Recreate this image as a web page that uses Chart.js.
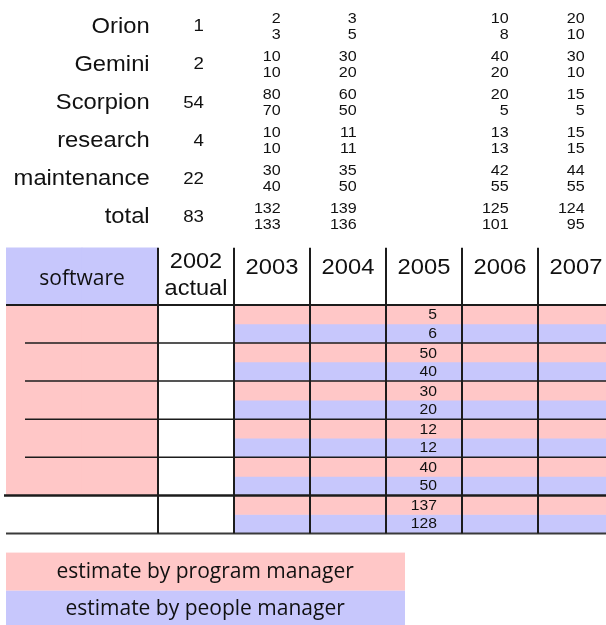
<!DOCTYPE html>
<html>
<head>
<meta charset="utf-8">
<title>software estimates</title>
<script src="https://cdn.jsdelivr.net/npm/chart.js@4.4.1/dist/chart.umd.min.js"></script>
<style>
    html, body { margin: 0; padding: 0; background: #fff; overflow: hidden; }
    #tablaChart { display: block; }
</style>
</head>
<body>
<canvas id="tablaChart" width="614" height="625"></canvas>
<script>
const programs = ['Orion', 'Gemini', 'Scorpion', 'research', 'maintenance'];
const totalLabel = 'total';
const years = ['2003', '2004', '2005', '2006', '2007'];
const yearsInTable = ['2005'];

const actual2002 = [1, 2, 54, 4, 22];
const actualTotal2002 = 83;

// estimate by program manager
const pm2003 = [2, 10, 80, 10, 30];
const pm2004 = [3, 30, 60, 11, 35];
const pm2005 = [5, 50, 30, 12, 40];
const pm2006 = [10, 40, 20, 13, 42];
const pm2007 = [20, 30, 15, 15, 44];
const pmTotals = [132, 139, 137, 125, 124];

// estimate by people manager
const pe2003 = [3, 10, 70, 10, 40];
const pe2004 = [5, 20, 50, 11, 50];
const pe2005 = [6, 40, 20, 12, 50];
const pe2006 = [8, 20, 5, 13, 55];
const pe2007 = [10, 10, 5, 15, 55];
const peTotals = [133, 136, 128, 101, 95];

const legendLabels = ['estimate by program manager', 'estimate by people manager'];

const PINK = '#ffc7c7';
const LAVENDER = '#c7c7fc';
const INK = '#1c1c1c';
const ARIAL = '"Liberation Sans", Arial, sans-serif';
const CALIBRI = '"Open Sans", "Noto Sans", sans-serif';

let tablaChart;

const pmByYear = [pm2003, pm2004, pm2005, pm2006, pm2007];
const peByYear = [pe2003, pe2004, pe2005, pe2006, pe2007];

// one bar per cell, top half = program manager, bottom half = people manager
function cellBars(byYear, totals, half) {
    const data = [];
    byYear.forEach((vals, j) => {
        vals.forEach((v, i) => {
            data.push({ x: j + 1.5, y: [i + half * 0.5, i + half * 0.5 + 0.5], value: v });
        });
        const t = vals.length;
        data.push({ x: j + 1.5, y: [t + half * 0.5, t + half * 0.5 + 0.5], value: totals[j] });
    });
    return data;
}

function texto(ctx, str, x, y, font, align, sx) {
    ctx.save();
    ctx.translate(x, y);
    ctx.scale(sx || 1, 1);
    ctx.font = font;
    ctx.textAlign = align;
    ctx.textBaseline = 'middle';
    ctx.fillStyle = '#111';
    ctx.fillText(str, 0, 0);
    ctx.restore();
}

function linea(ctx, x1, y1, x2, y2, w, color) {
    ctx.beginPath();
    ctx.lineWidth = w;
    ctx.strokeStyle = color || INK;
    ctx.moveTo(x1, y1);
    ctx.lineTo(x2, y2);
    ctx.stroke();
}

const tablaPlugin = {
    id: 'tablaPlugin',
    afterDatasetsDraw(chart) {
        const { ctx } = chart;
        const px = v => chart.scales.x.getPixelForValue(v);
        const py = v => chart.scales.y.getPixelForValue(v);
        const n = programs.length;

        // legend boxes
        ctx.save();
        ctx.fillStyle = PINK;
        ctx.fillRect(px(-2), py(6.5), px(3.25) - px(-2), py(7.5) - py(6.5));
        ctx.fillStyle = LAVENDER;
        ctx.fillRect(px(-2), py(7.5), px(3.25) - px(-2), py(8.4) - py(7.5));
        ctx.restore();
        texto(ctx, legendLabels[0], px(0.62), py(7.01), '21px ' + CALIBRI, 'center');
        texto(ctx, legendLabels[1], px(0.62), py(7.97), '21px ' + CALIBRI, 'center');

        // grid lines
        ctx.save();
        linea(ctx, px(-2), py(0), px(6), py(0), 2);
        for (let i = 1; i < n; i++) {
            linea(ctx, px(-1.75), py(i), px(6), py(i), 1.5);
        }
        linea(ctx, px(-2) - 2, py(n), px(6), py(n), 2.5);
        linea(ctx, px(-2), py(n + 1), px(6), py(n + 1), 2, '#3a3a3a');
        for (let c = 0; c <= years.length; c++) {
            linea(ctx, px(c), py(-1.5), px(c), py(n + 1), 2);
        }
        ctx.restore();

        // header
        texto(ctx, 'software', px(-1), py(-0.68), '21px ' + CALIBRI, 'center');
        texto(ctx, '2002', px(0.5), py(-1.13), '22px ' + ARIAL, 'center', 1.07);
        texto(ctx, 'actual', px(0.5), py(-0.41), '22px ' + ARIAL, 'center', 1.07);
        years.forEach((yr, j) => {
            texto(ctx, yr, px(j + 1.5), py(-0.96), '22px ' + ARIAL, 'center', 1.08);
        });

        // rows above the table
        const labels = programs.concat([totalLabel]);
        const actual = actual2002.concat([actualTotal2002]);
        labels.forEach((lab, i) => {
            const yc = i - 7.3;
            texto(ctx, lab, px(-0.11), py(yc), '22px ' + ARIAL, 'right', 1.08);
            texto(ctx, String(actual[i]), px(0.605), py(yc), '17px ' + ARIAL, 'right', 1.1);
        });

        years.forEach((yr, j) => {
            const pm = pmByYear[j].concat([pmTotals[j]]);
            const pe = peByYear[j].concat([peTotals[j]]);
            pm.forEach((v, i) => {
                if (yearsInTable.includes(yr)) {
                    texto(ctx, String(v), px(j + 1.67), py(i + 0.28), '14px ' + ARIAL, 'right', 1.12);
                    texto(ctx, String(pe[i]), px(j + 1.67), py(i + 0.76), '14px ' + ARIAL, 'right', 1.12);
                } else {
                    const yc = i - 7.3;
                    texto(ctx, String(v), px(j + 1.615), py(yc - 0.21), '14px ' + ARIAL, 'right', 1.15);
                    texto(ctx, String(pe[i]), px(j + 1.615), py(yc + 0.21), '14px ' + ARIAL, 'right', 1.15);
                }
            });
        });
    }
};

function inicializarTabla() {
    const ctx = document.getElementById('tablaChart').getContext('2d');
    const n = programs.length;
    const barra = {
        borderWidth: 0,
        borderSkipped: false,
        barPercentage: 1,
        categoryPercentage: 1,
        grouped: false
    };
    tablaChart = new Chart(ctx, {
        type: 'bar',
        data: {
            datasets: [
                Object.assign({ label: legendLabels[0], data: cellBars(pmByYear, pmTotals, 0), backgroundColor: PINK }, barra),
                Object.assign({ label: legendLabels[1], data: cellBars(peByYear, peTotals, 1), backgroundColor: LAVENDER }, barra),
                Object.assign({ label: 'programs', data: [{ x: -1.5, y: [0, n] }, { x: -0.5, y: [0, n] }], backgroundColor: PINK }, barra),
                Object.assign({ label: 'header', data: [{ x: -1.5, y: [-1.5, 0] }, { x: -0.5, y: [-1.5, 0] }], backgroundColor: LAVENDER }, barra)
            ]
        },
        options: {
            responsive: false,
            animation: false,
            events: [],
            layout: { padding: { left: 6 } },
            scales: {
                x: { type: 'linear', min: -2, max: 6, offset: false, display: false, ticks: { stepSize: 1 } },
                y: { type: 'linear', min: -8, max: 8.4, reverse: true, display: false }
            },
            plugins: {
                legend: { display: false },
                tooltip: { enabled: false }
            }
        },
        plugins: [tablaPlugin]
    });
}

document.addEventListener('DOMContentLoaded', () => {
    inicializarTabla();
});
</script>
</body>
</html>
